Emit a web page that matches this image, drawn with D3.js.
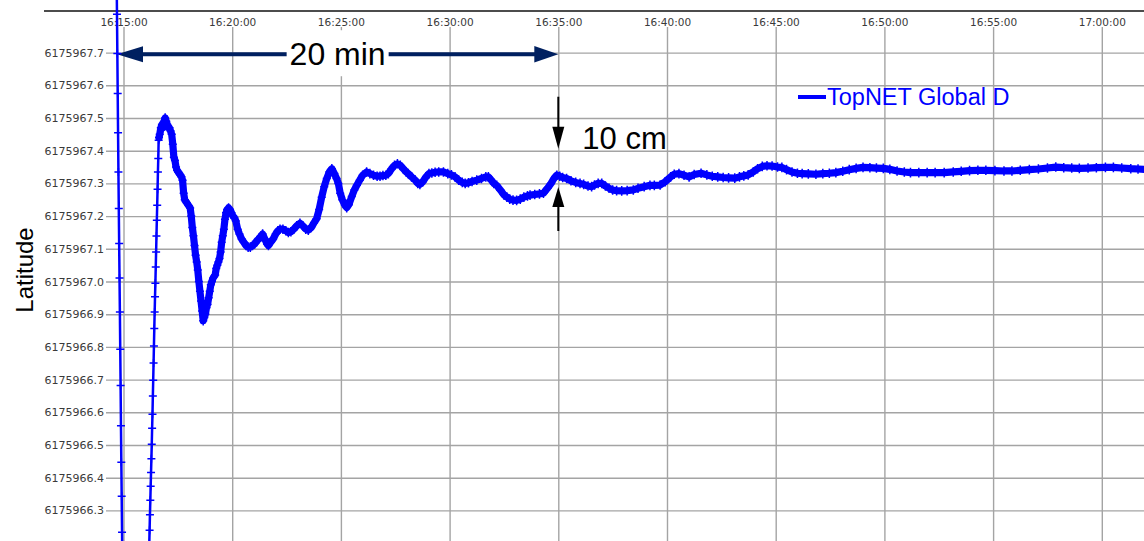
<!DOCTYPE html>
<html><head><meta charset="utf-8">
<script src="https://cdn.jsdelivr.net/npm/d3@7"></script>
<style>html,body{margin:0;padding:0;background:#fff;} svg{display:block;}</style>
</head><body>
<svg id="c" width="1144" height="541"></svg>
<script>
// ---------------- data ----------------
const seriesName = "TopNET Global D";
const yAxisTitle = "Latitude";
const baseTime = "16:15:00";
const xTickLabels = ["16:15:00","16:20:00","16:25:00","16:30:00","16:35:00","16:40:00","16:45:00","16:50:00","16:55:00","17:00:00"];
const yTickValues = [6175966.3,6175966.4,6175966.5,6175966.6,6175966.7,6175966.8,6175966.9,6175967.0,6175967.1,6175967.2,6175967.3,6175967.4,6175967.5,6175967.6,6175967.7];

// seconds after baseTime
const sampleSeconds = [
-19,-18,-17,-16,-15,-14,-13,-12,-11,-10,
-9,-8,-7,-6,-5,-4,-3,
71,72,73,74,75,76,77,78,79,80,
81,82,83,84,85,86,87,88,89,90,
91,92,93,94,95,96,97,
98,100,103,106,109,112,115,118,121,124,
127,130,133,136,139,142,145,148,151,154,
157,160,163,166,169,172,175,178,181,184,
187,190,193,196,199,202,205,208,211,214,
217,220,223,226,229,232,235,238,241,244,
247,250,253,256,259,262,265,268,271,274,
277,280,283,286,290,294,298,302,306,310,
315,320,326,332,338,344,350,356,362,368,
374,380,384,390,396,400,406,413,420,426,
432,440,448,455,462,470,478,487,495,503,
510,518,526,533,540,547,554,561,568,575,
582,588,593,598,604,611,616,622,630,637,
644,652,660,671,680,690,700,708,716,724,
731,740,748,756,764,772,780,786,795,805,
812,818,826,835,843,851,860,870,883,895,
905,915,925,935,943,952,962,975,988,1000,
1007,1015,1022,1030,1040,1050,1058,1066,1075,1085,
1095,1105,1115,1122,1135,1148,1159,1170,1180,1188,
1196,1204,1212,1223,1235,1248,1260,1270,1282,1292,
1300,1310,1320,1330,1340,1350,1361,1375,1390,1407,
1420,1437,1453,1465,1481,1495,1510,1520,1533,1547,
1561,1575,1594,1610,1625,1640,1655,1670,1687,1700,
1712,1724,1738,1750,1763,1776,1790,1805,1817,1830,
1845,1860,1873,1890,1911,1930,1948,1966,1985,2003,
2022,2041,2060,2078,2097,2115,2135,2155,2172,2195,
2218,2240,2265,2290,2312,2335,2358,2380,2405,2430,
2452,2475,2500,2525,2550,2573,2595,2617,2638,2662,
2685,2710,2732,2755,2780,2800,2820
];
const latitudeValues = [
6175967.940,6175967.817,6175967.697,6175967.575,6175967.455,6175967.335,6175967.223,6175967.116,6175967.011,6175966.907,
6175966.793,6175966.682,6175966.559,6175966.447,6175966.343,6175966.233,6175966.120,
6175966.193,6175966.239,6175966.287,6175966.331,6175966.374,6175966.416,6175966.458,6175966.502,6175966.551,6175966.594,
6175966.650,6175966.698,6175966.751,6175966.803,6175966.856,6175966.907,6175966.953,6175966.995,6175967.044,6175967.090,
6175967.139,6175967.187,6175967.233,6175967.282,6175967.335,6175967.376,6175967.432,
6175967.44,6175967.45,6175967.47,6175967.48,6175967.47,6175967.49,6175967.50,6175967.49,6175967.48,6175967.47,
6175967.47,6175967.46,6175967.45,6175967.42,6175967.38,6175967.37,6175967.35,6175967.34,6175967.335,6175967.33,
6175967.325,6175967.32,6175967.31,6175967.27,6175967.25,6175967.245,6175967.24,6175967.235,6175967.23,6175967.225,
6175967.20,6175967.165,6175967.14,6175967.11,6175967.08,6175967.06,6175967.035,6175967.00,6175966.97,6175966.94,
6175966.91,6175966.88,6175966.89,6175966.90,6175966.92,6175966.93,6175966.95,6175966.97,6175966.99,6175967.00,
6175967.01,6175967.015,6175967.02,6175967.04,6175967.05,6175967.06,6175967.07,6175967.09,6175967.12,6175967.14,
6175967.16,6175967.19,6175967.21,6175967.22,6175967.225,6175967.22,6175967.21,6175967.20,6175967.195,6175967.185,
6175967.16,6175967.145,6175967.13,6175967.12,6175967.11,6175967.105,6175967.105,6175967.11,6175967.115,6175967.125,
6175967.13,6175967.14,6175967.145,6175967.13,6175967.115,6175967.11,6175967.12,6175967.13,6175967.145,6175967.155,
6175967.16,6175967.16,6175967.155,6175967.15,6175967.152,6175967.16,6175967.17,6175967.178,6175967.17,6175967.16,
6175967.157,6175967.165,6175967.18,6175967.192,6175967.22,6175967.258,6175967.29,6175967.315,6175967.335,6175967.345,
6175967.33,6175967.315,6175967.30,6175967.27,6175967.25,6175967.233,6175967.226,6175967.235,6175967.26,6175967.28,
6175967.294,6175967.31,6175967.325,6175967.335,6175967.33,6175967.325,6175967.322,6175967.322,6175967.324,6175967.325,
6175967.33,6175967.345,6175967.355,6175967.36,6175967.355,6175967.345,6175967.335,6175967.33,6175967.32,6175967.31,
6175967.30,6175967.297,6175967.305,6175967.32,6175967.33,6175967.332,6175967.334,6175967.335,6175967.335,6175967.33,
6175967.326,6175967.32,6175967.31,6175967.303,6175967.30,6175967.302,6175967.306,6175967.31,6175967.315,6175967.32,
6175967.32,6175967.31,6175967.30,6175967.294,6175967.28,6175967.265,6175967.258,6175967.252,6175967.249,6175967.248,
6175967.252,6175967.258,6175967.262,6175967.264,6175967.266,6175967.268,6175967.27,6175967.285,6175967.30,6175967.315,
6175967.325,6175967.322,6175967.318,6175967.315,6175967.308,6175967.303,6175967.30,6175967.297,6175967.292,6175967.29,
6175967.295,6175967.30,6175967.30,6175967.292,6175967.285,6175967.28,6175967.278,6175967.277,6175967.278,6175967.28,
6175967.285,6175967.29,6175967.294,6175967.294,6175967.295,6175967.305,6175967.32,6175967.328,6175967.33,6175967.325,
6175967.32,6175967.327,6175967.331,6175967.326,6175967.322,6175967.32,6175967.318,6175967.317,6175967.316,6175967.32,
6175967.323,6175967.326,6175967.335,6175967.345,6175967.352,6175967.354,6175967.353,6175967.35,6175967.349,6175967.342,
6175967.335,6175967.331,6175967.33,6175967.329,6175967.328,6175967.33,6175967.331,6175967.333,6175967.337,6175967.342,
6175967.346,6175967.349,6175967.348,6175967.347,6175967.346,6175967.343,6175967.338,6175967.335,6175967.333,6175967.333,
6175967.333,6175967.333,6175967.333,6175967.335,6175967.337,6175967.339,6175967.34,6175967.34,6175967.339,6175967.338,
6175967.338,6175967.34,6175967.342,6175967.344,6175967.347,6175967.35,6175967.348,6175967.347,6175967.346,6175967.347,
6175967.348,6175967.349,6175967.349,6175967.347,6175967.345,6175967.344,6175967.343
];
// samples from this time on are recorded densely (drawn as a thick band)
const denseFromSecond = 98;

// annotations (data coordinates)
const spanStart = "16:14:42", spanEnd = "16:35:00", spanLevel = 6175967.695, spanText = "20 min";
const stepTime = "16:35:00", stepTop = 6175967.406, stepBottom = 6175967.289, stepText = "10 cm";

// ---------------- drawing ----------------
const W = 1144, H = 541;
const svg = d3.select("#c");
svg.append("rect").attr("width", W).attr("height", H).attr("fill", "#fff");

const parse = d3.timeParse("%H:%M:%S");
const base = parse(baseTime);
const toDate = s => new Date(base.getTime() + s * 1000);
const data = sampleSeconds.map((s, i) => ({ s, t: toDate(s), v: latitudeValues[i] }));

const x = d3.scaleTime().domain([parse("16:15:00"), parse("17:00:00")]).range([123.5, 1101.8]);
const y = d3.scaleLinear().domain([6175966.3, 6175967.7]).range([510.4, 52.6]);

const gridColor = "#a4a4a4";
const gridLeft = 106, xAxisY = 27;

// horizontal grid + y labels
const gy = svg.append("g").attr("transform", `translate(${gridLeft},0)`)
  .call(d3.axisLeft(y).tickValues(yTickValues).tickSize(-(W - gridLeft)).tickPadding(2).tickFormat(d3.format(".1f")));
gy.select(".domain").remove();
gy.selectAll(".tick line").attr("stroke", gridColor).attr("stroke-width", 1.4);
gy.selectAll(".tick text").attr("font-family", "DejaVu Sans, Verdana, sans-serif").attr("font-size", "11px").attr("fill", "#3a3a3a");

// vertical grid + x labels
const gx = svg.append("g").attr("transform", `translate(0,${xAxisY})`)
  .call(d3.axisTop(x).tickValues(xTickLabels.map(parse)).tickSize(-(H - xAxisY)).tickPadding(1.5).tickFormat(d3.timeFormat("%H:%M:%S")));
gx.select(".domain").remove();
gx.selectAll(".tick line").attr("stroke", gridColor).attr("stroke-width", 1.4);
gx.selectAll(".tick text").attr("font-family", "DejaVu Sans, Verdana, sans-serif").attr("font-size", "10.5px").attr("fill", "#3a3a3a");

// top frame line
svg.append("line").attr("x1", 44).attr("x2", W).attr("y1", 11).attr("y2", 11).attr("stroke", "#111").attr("stroke-width", 1.3);

// y axis title
svg.append("text").attr("transform", "translate(33,270) rotate(-90)").attr("text-anchor", "middle")
  .attr("font-family", "Liberation Sans, Arial, sans-serif").attr("font-size", "24px").attr("fill", "#000").text(yAxisTitle);

// 20 min span arrow
const navy = "#002060";
const sx1 = x(parse(spanStart)), sx2 = x(parse(spanEnd)), sy = y(spanLevel);
svg.append("line").attr("x1", sx1 + 20).attr("x2", sx2 - 20).attr("y1", sy).attr("y2", sy).attr("stroke", navy).attr("stroke-width", 4);
svg.append("path").attr("d", `M${sx1},${sy}L${sx1 + 26},${sy - 8}L${sx1 + 26},${sy + 8}Z`).attr("fill", navy);
svg.append("path").attr("d", `M${sx2},${sy}L${sx2 - 24},${sy - 8.3}L${sx2 - 24},${sy + 8.3}Z`).attr("fill", navy);
const midX = (sx1 + sx2) / 2;
svg.append("rect").attr("x", midX - 51).attr("y", sy - 24).attr("width", 102).attr("height", 46).attr("fill", "#fff");
svg.append("text").attr("x", midX).attr("y", sy + 11).attr("text-anchor", "middle")
  .attr("font-family", "Liberation Sans, Arial, sans-serif").attr("font-size", "32px").attr("fill", "#000").text(spanText);

// series
const blue = "#0000ff";
const line = d3.line().x(d => x(d.t)).y(d => y(d.v));
svg.append("path").datum(data).attr("d", line).attr("fill", "none").attr("stroke", blue).attr("stroke-width", 2.5).attr("stroke-linejoin", "round");
svg.append("path").datum(data.filter(d => d.s >= denseFromSecond)).attr("d", line).attr("fill", "none")
  .attr("stroke", blue).attr("stroke-width", 7.2).attr("stroke-linejoin", "round").attr("stroke-linecap", "round");
svg.append("g").selectAll("path").data(data).join("path")
  .attr("transform", d => `translate(${x(d.t)},${y(d.v)})`)
  .attr("d", d => d.s >= denseFromSecond ? "M-4,0H4M0,-4.8V4.8" : "M-4,0H4M0,-4V4")
  .attr("stroke", blue).attr("stroke-width", 1.5).attr("fill", "none");

// 10 cm step arrows
const ax = x(parse(stepTime)), ty = y(stepTop), by = y(stepBottom);
svg.append("line").attr("x1", ax).attr("x2", ax).attr("y1", ty - 52).attr("y2", ty - 16).attr("stroke", "#000").attr("stroke-width", 2);
svg.append("path").attr("d", `M${ax},${ty}L${ax - 6},${ty - 22}L${ax + 6},${ty - 22}Z`).attr("fill", "#000");
svg.append("line").attr("x1", ax).attr("x2", ax).attr("y1", by + 16).attr("y2", by + 44).attr("stroke", "#000").attr("stroke-width", 2);
svg.append("path").attr("d", `M${ax},${by}L${ax - 6},${by + 20}L${ax + 6},${by + 20}Z`).attr("fill", "#000");
svg.append("text").attr("x", ax + 24).attr("y", ty).attr("font-family", "Liberation Sans, Arial, sans-serif")
  .attr("font-size", "31px").attr("fill", "#000").text(stepText);

// legend
const lg = svg.append("g").attr("transform", "translate(798,97)");
lg.append("line").attr("x1", 0).attr("x2", 28).attr("y1", 0).attr("y2", 0).attr("stroke", blue).attr("stroke-width", 4);
lg.append("text").attr("x", 29).attr("y", 8).attr("font-family", "Liberation Sans, Arial, sans-serif")
  .attr("font-size", "23.5px").attr("fill", blue).text(seriesName);
</script></body></html>
